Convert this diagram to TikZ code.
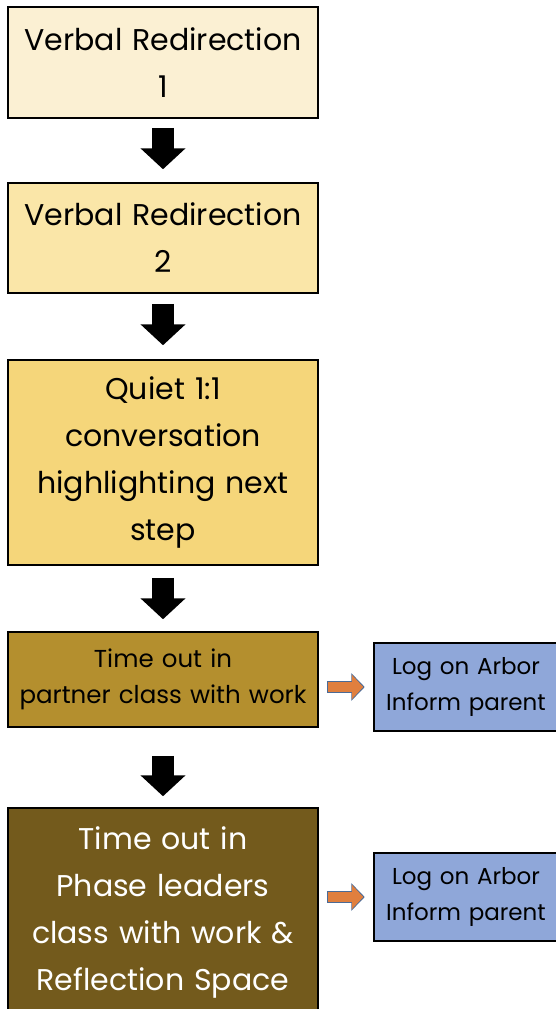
\documentclass[tikz,border=0pt]{standalone}
\usepackage{fontspec}
\setmainfont{Poppins}
\usetikzlibrary{positioning, arrows.meta}
\definecolor{creamA}{HTML}{FBF0D3}
\definecolor{creamB}{HTML}{FAE6A8}
\definecolor{gold}{HTML}{F5D67A}
\definecolor{ochre}{HTML}{B48F2E}
\definecolor{olive}{HTML}{735A1C}
\definecolor{logblue}{HTML}{8FA7D9}
\definecolor{arroworange}{HTML}{E07F3E}
\definecolor{arrowedge}{HTML}{4A6A96}
\tikzset {
    x=1pt, y=1pt,
    node distance=65pt,
    stepbox/.style={draw=black, line width=1.5pt, minimum width=310pt,
        text width=300pt, align=center, inner sep=0pt,
        font=\fontsize{30}{47}\selectfont},
    smallstep/.style={stepbox, font=\fontsize{24.5}{36}\selectfont},
    logbox/.style={draw=black, line width=1.5pt, fill=logblue,
        minimum width=184pt, minimum height=88pt, text width=180pt,
        align=center, inner sep=0pt, font=\fontsize{23}{36}\selectfont},
    down arrow/.style={draw=black, line width=22pt,
        -{Triangle[width=44pt, length=21pt]}},
    side edge/.style={draw=arrowedge, line width=12.5pt,
        shorten <=8pt, shorten >=8.5pt,
        -{Triangle[width=27pt, length=13.5pt]}},
    side fill/.style={draw=arroworange, line width=10pt,
        shorten <=9.2pt, shorten >=10pt,
        -{Triangle[width=24pt, length=11.5pt]}}
}
\begin{document}
\begin{tikzpicture}
    \useasboundingbox (0,0) rectangle (556,-1009);

    \node[stepbox, fill=creamA, minimum height=111pt] (b1) at (163,-62.5) {Verbal Redirection\\1};
    \node[stepbox, fill=creamB, minimum height=110pt, below=63.5pt of b1] (b2) {Verbal Redirection\\2};
    \node[stepbox, fill=gold, minimum height=205pt, below=65.5pt of b2] (b3) {Quiet 1:1\\conversation\\highlighting next\\step};
    \node[smallstep, fill=ochre, minimum height=95pt, below=65.5pt of b3] (b4) {Time out in\\partner class with work};
    \node[stepbox, fill=olive, text=white, minimum height=208pt, below=79.5pt of b4] (b5) {Time out in\\Phase leaders\\class with work \&\\Reflection Space};

    \node[logbox, right=54.5pt of b4, yshift=-7.5pt] (log1) {Log on Arbor\\Inform parent};
    \node[logbox, right=54.5pt of b5, yshift=15pt] (log2) {Log on Arbor\\Inform parent};

    % down the ladder
    \draw[down arrow, shorten <=9pt, shorten >=13pt] (b1.south) -- (b2.north);
    \draw[down arrow, shorten <=10pt, shorten >=14pt] (b2.south) -- (b3.north);
    \draw[down arrow, shorten <=12pt, shorten >=12pt] (b3.south) -- (b4.north);
    \draw[down arrow, shorten <=28pt, shorten >=11pt] (b4.south) -- (b5.north);

    % out to the log boxes
    \draw[side edge] (b4.east |- log1.west) -- (log1.west);
    \draw[side fill] (b4.east |- log1.west) -- (log1.west);
    \draw[side edge] (b5.east |- log2.west) -- (log2.west);
    \draw[side fill] (b5.east |- log2.west) -- (log2.west);
\end{tikzpicture}
\end{document}
